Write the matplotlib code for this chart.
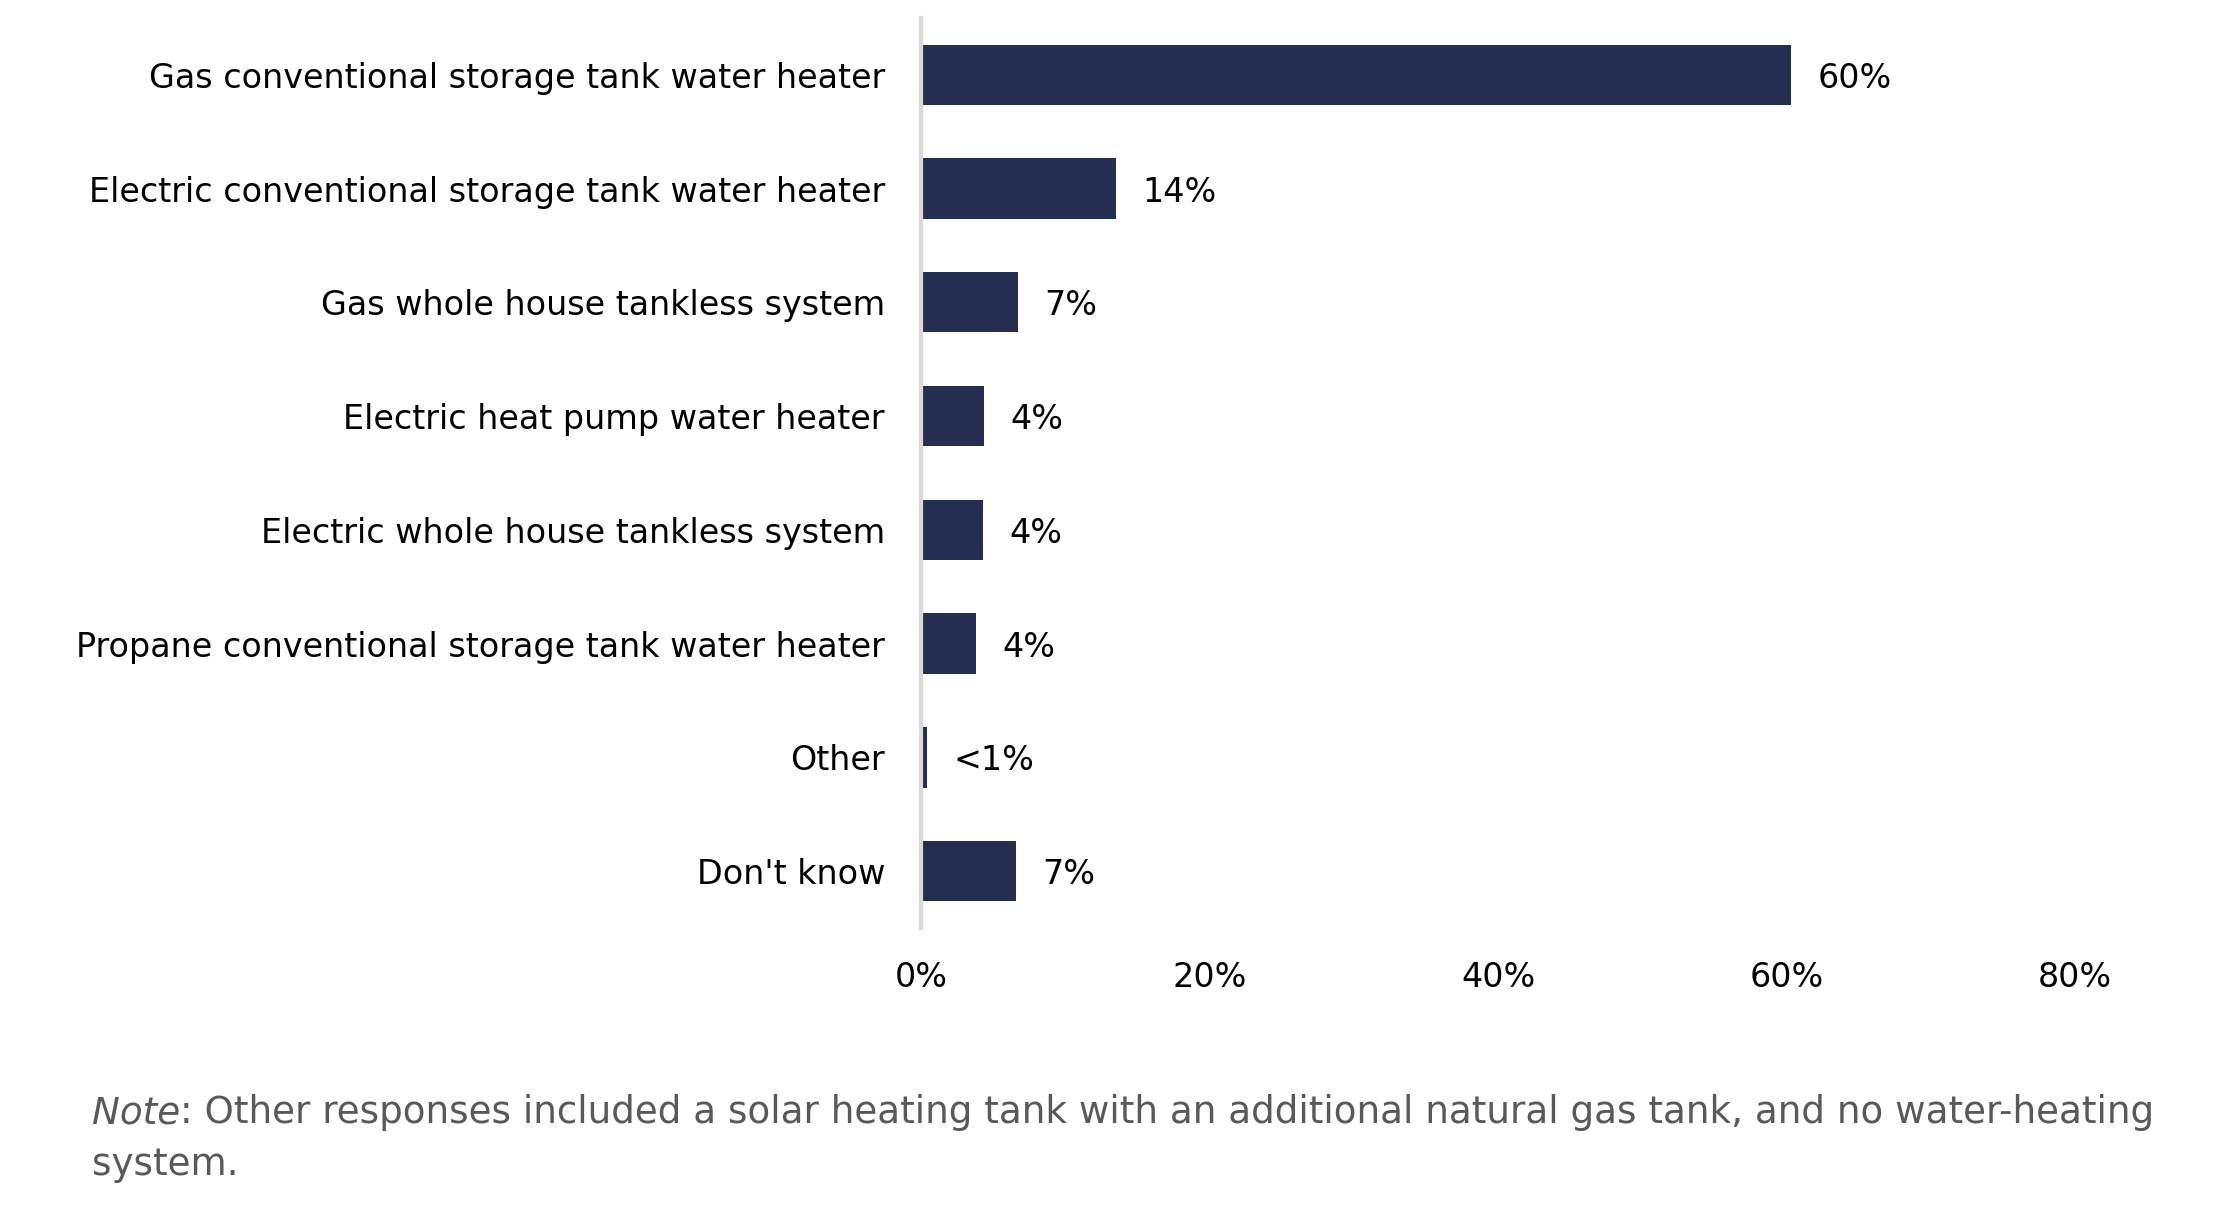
import matplotlib
matplotlib.use("Agg")
import matplotlib.pyplot as plt

# data
categories = [
    "Gas conventional storage tank water heater",
    "Electric conventional storage tank water heater",
    "Gas whole house tankless system",
    "Electric heat pump water heater",
    "Electric whole house tankless system",
    "Propane conventional storage tank water heater",
    "Other",
    "Don't know",
]
shares = [60.3, 13.5, 6.7, 4.4, 4.3, 3.8, 0.4, 6.6]
share_labels = ["60%", "14%", "7%", "4%", "4%", "4%", "<1%", "7%"]
x_ticks = [0, 20, 40, 60, 80]
x_tick_labels = ["0%", "20%", "40%", "60%", "80%"]

note_italic = "Note"
note_line1 = ": Other responses included a solar heating tank with an additional natural gas tank, and no water-heating"
note_line2 = "system."

plt.rcParams["font.family"] = ["DejaVu Sans"]

bar_color = "#252e50"
axis_color = "#d9d9d9"
note_color = "#595959"

fig = plt.figure(figsize=(22.3, 12.29), dpi=100)
ax = fig.add_axes([0.413, 0.2449, 0.5175, 0.7405])

y = list(range(len(categories)))
ax.barh(y, shares, height=0.53, color=bar_color)

for yi, v, lab in zip(y, shares, share_labels):
    ax.annotate(lab, (v, yi), xytext=(19, 0), textcoords="offset points",
                ha="left", va="center_baseline", fontsize=24, color="black")

ax.set_ylim(len(categories) - 0.5, -0.5)
ax.set_xlim(0, 80)
ax.set_yticks(y)
ax.set_yticklabels(categories, fontsize=24, va="center_baseline")
ax.set_xticks(x_ticks)
ax.set_xticklabels(x_tick_labels, fontsize=24)
ax.tick_params(axis="y", length=0, pad=26)
ax.tick_params(axis="x", length=0, pad=24)

for side in ("top", "right", "bottom"):
    ax.spines[side].set_visible(False)
ax.spines["left"].set_color(axis_color)
ax.spines["left"].set_linewidth(3)

# note below the chart, "Note" in italics
base1 = 1 - 1123 / 1229
base2 = 1 - 1175 / 1229
t1 = fig.text(92 / 2230, base1, note_italic, fontsize=26.8, style="italic",
              color=note_color, ha="left", va="baseline")
fig.canvas.draw()
bb = t1.get_window_extent(fig.canvas.get_renderer())
fig.text(bb.x1 / fig.bbox.width, base1, note_line1, fontsize=26.8,
         color=note_color, ha="left", va="baseline")
fig.text(92 / 2230, base2, note_line2, fontsize=26.8,
         color=note_color, ha="left", va="baseline")

fig.savefig("out.png", dpi=100, facecolor="white")
